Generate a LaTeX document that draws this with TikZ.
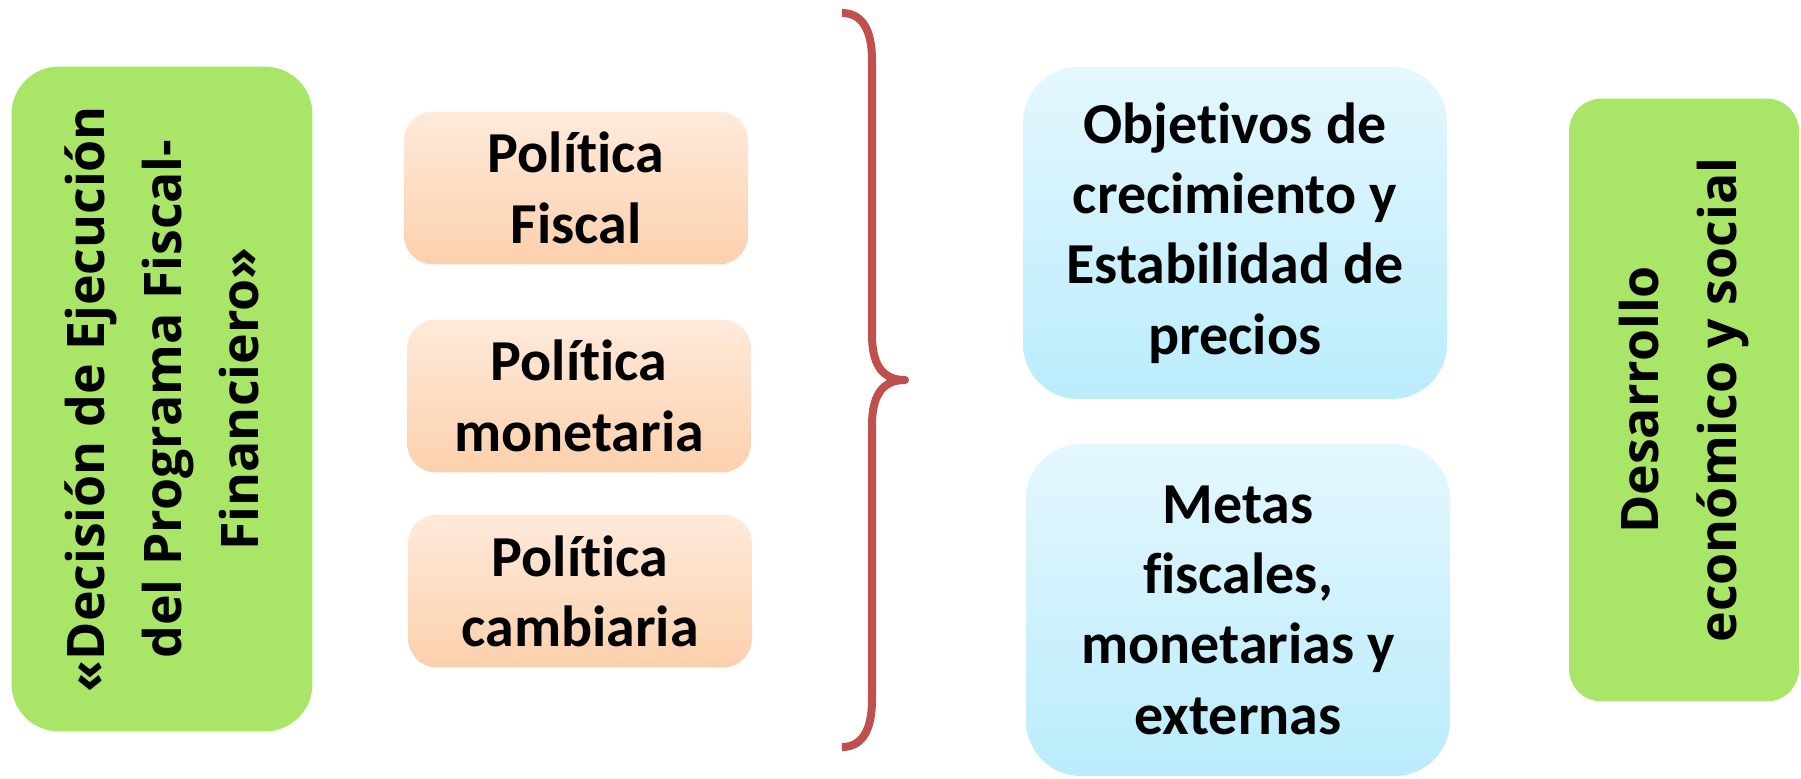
\documentclass[tikz,border=0pt]{standalone}
\usepackage{fontspec}
\setmainfont{Carlito}[Ligatures=NoCommon]
\newfontfamily\opensans{Open Sans}
\usetikzlibrary{positioning}

\definecolor{verde}{RGB}{169,230,103}
\definecolor{naranjaA}{RGB}{254,234,219}
\definecolor{naranjaB}{RGB}{252,208,172}
\definecolor{celesteA}{RGB}{228,247,254}
\definecolor{celesteB}{RGB}{186,236,252}
\definecolor{rojo}{RGB}{192,80,77}

\begin{document}
\begin{tikzpicture}[x=0.02cm, y=-0.02cm,
  every node/.style={align=center, inner sep=0pt},
  politica/.style={rounded corners=0.58cm, top color=naranjaA, bottom color=naranjaB,
    minimum width=6.88cm, minimum height=3.06cm,
    font=\fontsize{33}{40}\selectfont\bfseries},
  objetivo/.style={rounded corners=1.1cm, top color=celesteA, bottom color=celesteB,
    minimum width=8.48cm, minimum height=6.64cm,
    font=\fontsize{33}{40}\selectfont\bfseries},
  lateral/.style={fill=verde, rotate=90,
    font=\opensans\fontsize{29.5}{44}\selectfont\bfseries}]
  \useasboundingbox (0,0) rectangle (1801,778);

  \node[lateral, rounded corners=0.95cm, minimum width=13.3cm, minimum height=6.02cm]
    (decision) at (162,399) {«Decisión de Ejecución\\del Programa Fiscal-\\Financiero»};

  \node[politica] (fiscal) at (576,188) {Política\\Fiscal};
  \node[politica] (monetaria) at (579,396) {Política\\monetaria};
  \node[politica] (cambiaria) at (580,591) {Política\\cambiaria};

  % llave
  \draw[rojo, line width=0.16cm, line join=round]
    (842,13) .. controls (862,13) and (872,30) .. (872,60) -- (872,335)
    .. controls (872,368) and (885,380) .. (905,380)
    .. controls (885,380) and (872,392) .. (872,425) -- (872,700)
    .. controls (872,730) and (862,747) .. (842,747);

  \node[objetivo] (objetivos) at (1235,233)
    {Objetivos de\\crecimiento y\\Estabilidad de\\precios};
  \node[objetivo] (metas) at (1238,610)
    {Metas\\fiscales,\\monetarias y\\externas};

  \node[lateral, rounded corners=0.65cm, minimum width=12.06cm, minimum height=4.6cm]
    (desarrollo) at (1684,400) {Desarrollo\\económico y social};
\end{tikzpicture}
\end{document}
